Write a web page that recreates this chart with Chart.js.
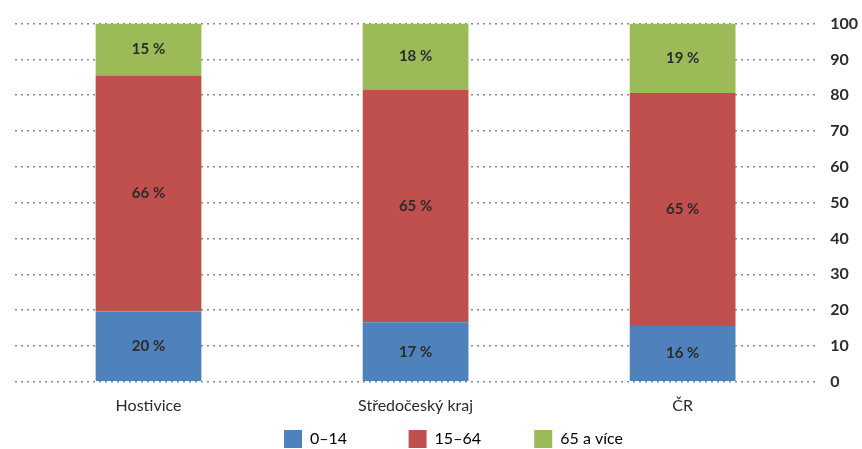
<!DOCTYPE html>
<html>
<head>
<meta charset="utf-8">
<script src="https://cdn.jsdelivr.net/npm/chart.js@4/dist/chart.umd.min.js"></script>
<style>
  html, body { margin: 0; padding: 0; background: #fff; }
  #wrap { width: 862px; height: 449px; }
</style>
</head>
<body>
<div id="wrap"><canvas id="ageChart" width="862" height="449"></canvas></div>
<script>
// Age structure data
var categories = ["Hostivice", "Středočeský kraj", "ČR"];
var seriesNames = ["0–14", "15–64", "65 a více"];
var young = [19.6, 16.6, 15.6];
var working = [65.9, 65.0, 65.0];
var old = [14.5, 18.4, 19.4];
var yTicks = [0, 10, 20, 30, 40, 50, 60, 70, 80, 90, 100];
var barColors = ["#4F81BD", "#C0504D", "#9BBB59"];

var fontFamily = "Lato, 'Open Sans', sans-serif";

// Draw "NN %" in the middle of every segment
const segmentLabels = {
    id: 'segmentLabels',
    afterDatasetsDraw(chart) {
        const ctx = chart.ctx;
        ctx.save();
        ctx.font = "bold 15px " + fontFamily;
        ctx.fillStyle = "#2b2b2b";
        ctx.textAlign = "center";
        ctx.textBaseline = "middle";
        chart.data.datasets.forEach((ds, i) => {
            chart.getDatasetMeta(i).data.forEach((bar, j) => {
                const y = (bar.y + bar.base) / 2;
                ctx.fillText(Math.round(ds.data[j]) + " %", bar.x, y);
            });
        });
        ctx.restore();
    }
};

// Nudge the legend down/right a bit, into the bottom margin
const legendShift = {
    id: 'legendShift',
    afterLayout(chart) {
        const lg = chart.legend;
        lg.top += 9;
        lg.bottom += 9;
        lg.left += 10;
        lg.right += 10;
    }
};

// spaces after legend texts to spread the items like the original
var legendGap = ["               ", "             ", ""];

new Chart("ageChart", {
    type: "bar",
    data: {
        labels: categories,
        datasets: [
            { label: seriesNames[0], data: young, backgroundColor: barColors[0] },
            { label: seriesNames[1], data: working, backgroundColor: barColors[1] },
            { label: seriesNames[2], data: old, backgroundColor: barColors[2] }
        ]
    },
    options: {
        responsive: false,
        animation: false,
        layout: { padding: { left: 15, right: -10, top: 18, bottom: 0 } },
        datasets: {
            bar: { categoryPercentage: 1.0, barPercentage: 0.396 }
        },
        plugins: {
            legend: {
                position: "bottom",
                labels: {
                    boxWidth: 18,
                    boxHeight: 18,
                    padding: 0,
                    color: "#2b2b2b",
                    font: { family: fontFamily, size: 16 },
                    generateLabels(chart) {
                        return chart.data.datasets.map((ds, i) => ({
                            text: ds.label + legendGap[i],
                            fillStyle: ds.backgroundColor,
                            strokeStyle: ds.backgroundColor,
                            lineWidth: 0,
                            datasetIndex: i
                        }));
                    }
                }
            },
            tooltip: { enabled: false }
        },
        scales: {
            x: {
                stacked: true,
                grid: { display: false },
                border: { display: false },
                ticks: {
                    padding: 6,
                    color: "#2b2b2b",
                    font: { family: fontFamily, size: 16 }
                }
            },
            y: {
                stacked: true,
                position: "right",
                min: 0,
                max: 100,
                afterBuildTicks(axis) {
                    axis.ticks = yTicks.map(v => ({ value: v }));
                },
                border: { display: false, dash: [2, 4] },
                grid: {
                    color: "#8a8a8a",
                    lineWidth: 1.5,
                    drawTicks: false
                },
                ticks: {
                    padding: 14,
                    color: "#2b2b2b",
                    font: { family: fontFamily, size: 16, weight: "bold" }
                }
            }
        }
    },
    plugins: [segmentLabels, legendShift]
});
</script>
</body>
</html>
